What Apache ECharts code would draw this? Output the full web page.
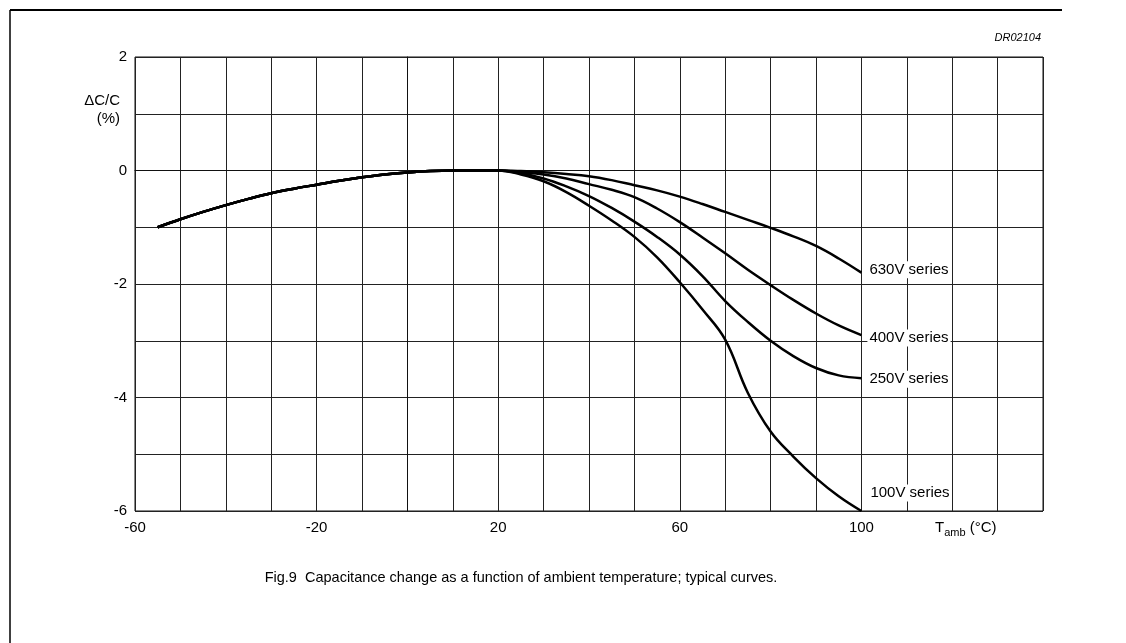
<!DOCTYPE html>
<html>
<head>
<meta charset="utf-8">
<title>Capacitance change vs ambient temperature</title>
<script src="https://cdn.jsdelivr.net/npm/echarts@6/dist/echarts.min.js"></script>
<style>
  html, body { margin: 0; padding: 0; background: #fff; }
  #chart { width: 1126px; height: 643px; }
</style>
</head>
<body>
<div id="chart"></div>
<script>
// shared part of all four curves (deg C, %)
var tempCommon = [-55, -50, -45, -40, -35, -30, -25, -20, -15, -10, -5, 0, 5, 10, 15, 20];
var dcCommon = [-1.0, -0.86, -0.73, -0.61, -0.5, -0.4, -0.32, -0.25, -0.18, -0.12, -0.07, -0.035, -0.01, 0, 0, 0];

// where the curves split
var tempBranch = [25, 30, 35, 40, 45, 50, 55, 60, 65, 70, 75, 80, 85, 90, 95, 100];
var dc630 = [-0.01, -0.03, -0.06, -0.1, -0.17, -0.26, -0.35, -0.46, -0.59, -0.73, -0.87, -1.01, -1.16, -1.33, -1.55, -1.8];
var dc400 = [-0.03, -0.07, -0.14, -0.24, -0.34, -0.47, -0.67, -0.91, -1.18, -1.46, -1.75, -2.02, -2.28, -2.52, -2.73, -2.9];
var dc250 = [-0.05, -0.14, -0.28, -0.45, -0.66, -0.9, -1.17, -1.48, -1.86, -2.3, -2.67, -3.0, -3.27, -3.48, -3.61, -3.66];
var dc100 = [-0.07, -0.19, -0.38, -0.62, -0.88, -1.17, -1.53, -1.97, -2.45, -2.98, -3.92, -4.6, -5.04, -5.42, -5.74, -6.0];

var seriesNames = ['630V series', '400V series', '250V series', '100V series'];
var xTickLabels = [-60, -20, 20, 60, 100];
var yTickLabels = [2, 0, -2, -4, -6];

var FONT = 'Liberation Sans, Arial, Helvetica, sans-serif';

function buildCurve(branch) {
  var pts = [];
  tempCommon.forEach(function (t, i) { pts.push([t, dcCommon[i]]); });
  tempBranch.forEach(function (t, i) { pts.push([t, branch[i]]); });
  return pts;
}

function lineSeries(name, branch, offset) {
  return {
    name: name,
    type: 'line',
    data: buildCurve(branch),
    smooth: 0.4,
    showSymbol: false,
    lineStyle: { color: '#000', width: 2.5 },
    endLabel: {
      show: true,
      formatter: name,
      distance: 6,
      offset: offset,
      color: '#000',
      fontFamily: FONT,
      fontSize: 15,
      backgroundColor: '#fff',
      padding: [1, 2]
    },
    z: 3
  };
}

function init() {
  var chart = echarts.init(document.getElementById('chart'), null, { renderer: 'canvas' });
  var option = {
    animation: false,
    backgroundColor: '#fff',
    grid: {
      left: 135, right: 83, top: 57, bottom: 132,
      show: true, borderColor: '#111', borderWidth: 1
    },
    xAxis: {
      type: 'value',
      min: -60, max: 140, interval: 10,
      axisLine: { show: true, lineStyle: { color: '#111', width: 1 } },
      axisTick: { show: false },
      splitLine: { show: true, lineStyle: { color: '#222', width: 1 } },
      axisLabel: {
        margin: 9,
        color: '#000',
        fontFamily: FONT,
        fontSize: 15,
        formatter: function (v) {
          return xTickLabels.indexOf(v) >= 0 ? String(v) : '';
        }
      }
    },
    yAxis: {
      type: 'value',
      min: -6, max: 2, interval: 1,
      axisLine: { show: true, lineStyle: { color: '#111', width: 1 } },
      axisTick: { show: false },
      splitLine: { show: true, lineStyle: { color: '#222', width: 1 } },
      axisLabel: {
        margin: 8,
        color: '#000',
        fontFamily: FONT,
        fontSize: 15,
        formatter: function (v) {
          return yTickLabels.indexOf(v) >= 0 ? String(v) : '';
        }
      }
    },
    graphic: [
      // page frame pieces
      { type: 'line', shape: { x1: 10, y1: 10, x2: 1062, y2: 10 }, style: { stroke: '#000', lineWidth: 2 } },
      { type: 'line', shape: { x1: 10, y1: 10, x2: 10, y2: 643 }, style: { stroke: '#000', lineWidth: 1.5 } },
      {
        type: 'text', x: 1041, y: 38,
        style: { text: 'DR02104', textAlign: 'right', textVerticalAlign: 'middle', font: 'italic 11px ' + FONT, fill: '#000' }
      },
      {
        type: 'text', x: 120, y: 110,
        style: { text: '\u0394C/C\n(%)', textAlign: 'right', textVerticalAlign: 'middle', font: '15px ' + FONT, lineHeight: 18, fill: '#000' }
      },
      {
        type: 'text', x: 935, y: 528,
        style: {
          text: '{t|T}{s|amb}{t| (\u00b0C)}',
          textVerticalAlign: 'middle',
          rich: {
            t: { fontFamily: FONT, fontSize: 15, fill: '#000', color: '#000' },
            s: { fontFamily: FONT, fontSize: 11, fill: '#000', color: '#000', padding: [10, 0, 0, 0] }
          }
        }
      },
      {
        type: 'text', x: 521, y: 578,
        style: {
          text: 'Fig.9  Capacitance change as a function of ambient temperature; typical curves.',
          textAlign: 'center', textVerticalAlign: 'middle', font: '14.5px ' + FONT, fill: '#000'
        }
      }
    ],
    series: [
      lineSeries(seriesNames[0], dc630, [0, -3]),
      lineSeries(seriesNames[1], dc400, [0, 3]),
      lineSeries(seriesNames[2], dc250, [0, 1]),
      lineSeries(seriesNames[3], dc100, [1, -18])
    ]
  };
  chart.setOption(option);
}

window.onload = init;
</script>
</body>
</html>
